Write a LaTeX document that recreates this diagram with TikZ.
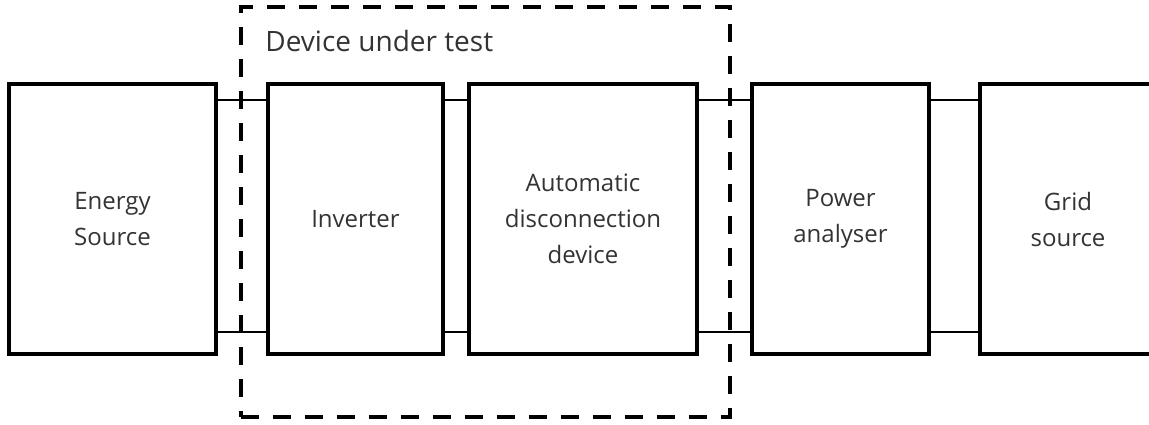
\documentclass[tikz,border=0pt]{standalone}
\usepackage{fontspec}
\setmainfont{Open Sans}
\usetikzlibrary{positioning}

\begin{document}
\begin{tikzpicture}[x=1pt,y=1pt,
    blk/.style={draw,line width=2pt,outer sep=0pt,minimum height=135pt,align=center,
      text=black!80,font=\fontsize{12}{18}\selectfont},
    wire/.style={line width=0.65pt},
    dutbox/.style={draw,line width=2pt,dash pattern=on 9pt off 7pt,outer sep=0pt,inner sep=0pt}]
    \useasboundingbox (0,0) rectangle (574.5,212);
    \node[blk,minimum width=103.5pt] (src) at (56.25,102.5) {Energy\\Source};
    \node[blk,minimum width=87.5pt,right=26pt of src] (inv) {Inverter};
    \node[blk,minimum width=114pt,right=13pt of inv] (add) {Automatic\\disconnection\\device};
    \node[blk,minimum width=88.5pt,right=27.5pt of add] (pa) {Power\\analyser};
    \node[blk,minimum width=88pt,right=25.5pt of pa] (grid) {Grid\\source};
    \foreach \a/\b in {src/inv,inv/add,add/pa,pa/grid}{%
      \draw[wire] ([yshift=-8pt]\a.north east) -- ([yshift=-8pt]\b.north west);
      \draw[wire] ([yshift=11pt]\a.south east) -- ([yshift=11pt]\b.south west);}
    \node[dutbox,minimum width=244.5pt,minimum height=205pt] (dut) at (242.75,106) {};
    \node[anchor=base west,inner sep=0pt,text=black!80,font=\fontsize{14}{16}\selectfont]
      (dutlabel) at ([xshift=12pt,yshift=-22.5pt]dut.north west) {Device under test};
\end{tikzpicture}
\end{document}
